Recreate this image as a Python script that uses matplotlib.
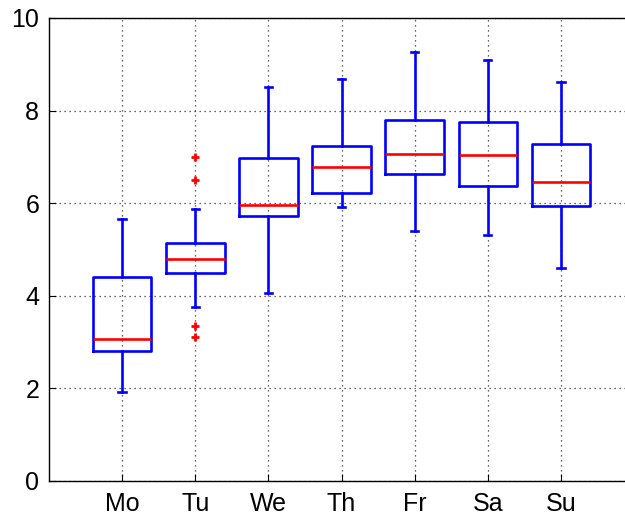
import matplotlib
matplotlib.use("Agg")
import matplotlib.pyplot as plt

days = ["Mo", "Tu", "We", "Th", "Fr", "Sa", "Su"]
whisker_low = [1.93, 3.75, 4.07, 5.91, 5.40, 5.31, 4.60]
q1 = [2.81, 4.49, 5.72, 6.23, 6.62, 6.38, 5.95]
medians = [3.07, 4.79, 5.97, 6.79, 7.07, 7.05, 6.45]
q3 = [4.41, 5.14, 6.98, 7.23, 7.80, 7.76, 7.28]
whisker_high = [5.65, 5.87, 8.50, 8.69, 9.27, 9.10, 8.61]
outliers = [[], [7.0, 6.5, 3.35, 3.11], [], [], [], [], []]

plt.rcParams['font.family'] = ['Liberation Sans', 'DejaVu Sans']

stats = []
for i, d in enumerate(days):
    stats.append(dict(label=d, whislo=whisker_low[i], q1=q1[i], med=medians[i],
                      q3=q3[i], whishi=whisker_high[i], fliers=outliers[i]))

fig = plt.figure(figsize=(6.25, 5.18), dpi=100)
ax = fig.add_axes([49 / 625, 37 / 518, (634 - 49) / 625, (481 - 18) / 518])

blue = dict(color='#0000ff', linewidth=1.9)
ax.bxp(stats, positions=range(1, 8), widths=0.8,
       boxprops=blue, whiskerprops=dict(color='#0000ff', linewidth=1.9, linestyle='-'),
       capprops=blue, capwidths=0.1,
       medianprops=dict(color='#ff0000', linewidth=1.9),
       flierprops=dict(marker='+', markeredgecolor='#ff0000', markersize=6,
                       markeredgewidth=2, linestyle='none'),
       zorder=3)

ax.set_xlim(0, 8)
ax.set_ylim(0, 10)
ax.set_yticks([0, 2, 4, 6, 8, 10])
ax.set_xticks(range(1, 8))
ax.set_xticklabels(days)
ax.grid(True, linestyle=(0, (1, 3)), color='#333333', linewidth=0.9)
ax.tick_params(direction='in', length=5, labelsize=18, pad=7)
ax.tick_params(axis='x', pad=8)
for s in ax.spines.values():
    s.set_linewidth(1.0)

fig.savefig("out.png", dpi=100)
